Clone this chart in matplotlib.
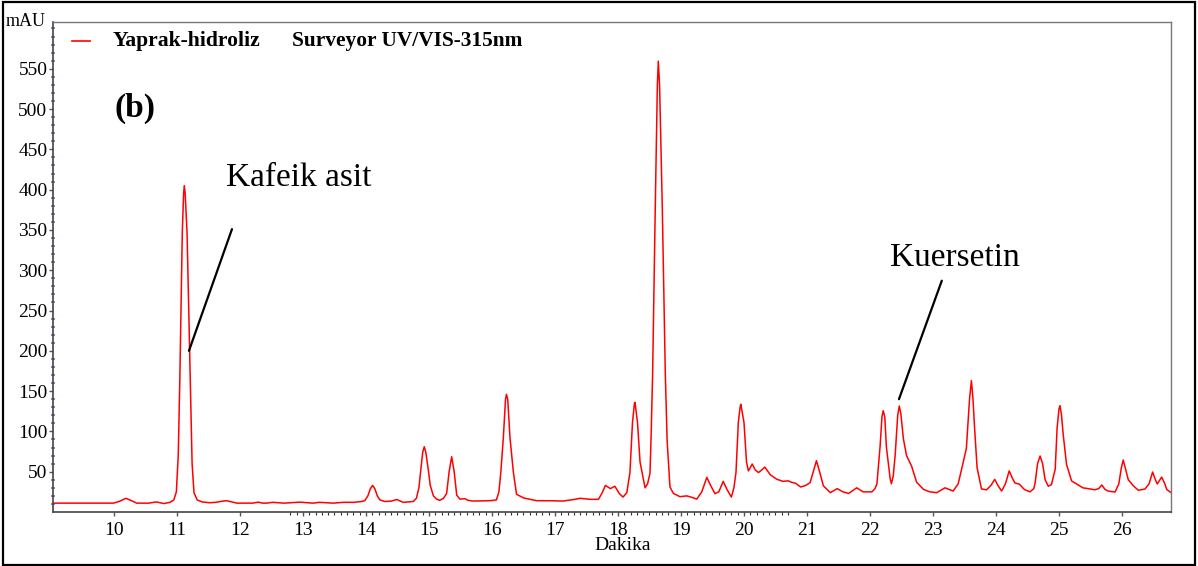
import matplotlib
matplotlib.use("Agg")
import matplotlib.pyplot as plt
from matplotlib.patches import Rectangle

plt.rcParams['font.family'] = ['Liberation Serif', 'DejaVu Serif']

# chromatogram trace (minutes, mAU)
time_min = [9.03, 9.99, 10.08, 10.19, 10.28, 10.36, 10.55, 10.67, 10.79, 10.89,
            10.95, 10.99, 11.02, 11.046, 11.084, 11.105, 11.116, 11.13, 11.16, 11.21,
            11.24, 11.27, 11.32, 11.40, 11.52, 11.62, 11.72, 11.79, 11.87, 11.95,
            12.20, 12.29, 12.36, 12.42, 12.52, 12.70, 12.95, 13.06, 13.16, 13.26,
            13.36, 13.48, 13.64, 13.80, 13.93, 13.98, 14.03, 14.07, 14.106, 14.14,
            14.18, 14.22, 14.30, 14.40, 14.49, 14.59, 14.75, 14.80, 14.84, 14.87,
            14.90, 14.925, 14.95, 14.99, 15.02, 15.07, 15.12, 15.17, 15.23, 15.28,
            15.32, 15.36, 15.40, 15.44, 15.49, 15.57, 15.62, 15.70, 15.97, 16.07,
            16.11, 16.14, 16.18, 16.215, 16.23, 16.25, 16.286, 16.34, 16.39, 16.50,
            16.71, 16.92, 17.13, 17.30, 17.40, 17.56, 17.69, 17.75, 17.80, 17.88,
            17.95, 18.02, 18.08, 18.14, 18.19, 18.23, 18.26, 18.27, 18.31, 18.35,
            18.40, 18.43, 18.47, 18.508, 18.524, 18.55, 18.592, 18.625, 18.64, 18.66,
            18.703, 18.751, 18.78, 18.825, 18.88, 18.984, 19.09, 19.16, 19.25, 19.33,
            19.41, 19.47, 19.54, 19.60, 19.67, 19.73, 19.80, 19.84, 19.873, 19.91,
            19.94, 19.95, 20.0, 20.04, 20.07, 20.10, 20.13, 20.18, 20.23, 20.28,
            20.33, 20.42, 20.52, 20.62, 20.70, 20.75, 20.82, 20.90, 20.98, 21.05,
            21.10, 21.15, 21.20, 21.26, 21.37, 21.48, 21.57, 21.66, 21.79, 21.89,
            22.03, 22.08, 22.11, 22.16, 22.19, 22.21, 22.235, 22.26, 22.32, 22.34,
            22.37, 22.40, 22.44, 22.465, 22.49, 22.53, 22.58, 22.66, 22.74, 22.85,
            22.95, 23.06, 23.19, 23.32, 23.40, 23.46, 23.53, 23.58, 23.61, 23.635,
            23.66, 23.70, 23.77, 23.85, 23.92, 23.98, 24.03, 24.09, 24.15, 24.21,
            24.26, 24.30, 24.37, 24.45, 24.54, 24.60, 24.62, 24.66, 24.70, 24.74,
            24.78, 24.83, 24.88, 24.94, 24.97, 25.0, 25.016, 25.04, 25.067, 25.12,
            25.20, 25.38, 25.57, 25.63, 25.68, 25.73, 25.78, 25.89, 25.95, 25.99,
            26.02, 26.06, 26.10, 26.18, 26.26, 26.365, 26.43, 26.486, 26.53, 26.56,
            26.63, 26.68, 26.71, 26.78]
absorb_mau = [11, 11, 13, 17, 14, 11, 11, 12.5, 10.5, 12,
              15, 25, 70, 168, 346, 395, 405, 395, 346, 168,
              60, 24, 15, 12.5, 11.5, 12, 13.5, 14, 12.5, 11,
              11, 12.2, 11, 11, 12, 11, 12.2, 11.5, 11, 12,
              11.5, 11, 12, 12, 13, 14, 20, 29, 33, 29,
              20, 15, 13, 13.5, 15.5, 12, 13, 17, 30, 52,
              74, 81, 74, 52, 33, 20, 16, 14.5, 17, 23,
              50, 68.6, 50, 21, 16, 16.5, 14.5, 13.6, 14, 15,
              25, 49, 92, 140, 146, 140, 92, 49, 22, 17.5,
              14, 14, 13.6, 15.5, 17, 15.7, 15.7, 24, 33, 29,
              32, 23, 18.5, 24, 49, 111, 134, 136, 111, 62,
              42, 30, 35, 48, 89, 172, 379, 530, 559.5, 530,
              379, 172, 89, 31, 23, 19, 20, 18.5, 16, 25,
              43, 33, 22.7, 25, 38, 28, 18.5, 30, 49, 111,
              131, 133.6, 111, 62, 51, 55, 59.5, 52, 49, 52,
              55.7, 46, 40.7, 38, 38.7, 37, 35.6, 31, 33, 36.4,
              50, 63.7, 50, 32.5, 24, 29, 25, 23, 30, 25,
              25, 29, 35, 81, 118, 125.7, 118, 81, 41.5, 35,
              45, 70.8, 120, 131.5, 122, 91, 70, 57, 37, 28,
              25, 24, 30, 26, 35, 55, 79, 140, 163, 140,
              104.6, 55, 28.6, 27.5, 33, 40.5, 33, 26, 35, 51,
              42, 36, 34.6, 28, 25, 29, 35.6, 60, 69.5, 60,
              40, 32, 34, 53, 104, 128, 132, 120, 96, 59,
              38.5, 30, 27.6, 29, 33.5, 28, 26, 24.8, 35, 55,
              64.5, 52, 40, 32.5, 27, 28.5, 35, 49.6, 40, 34.8,
              43.3, 35, 28, 24]

x_ticks = list(range(10, 27))
y_ticks = list(range(50, 551, 50))

# peak labels: text, text pos, line top, line tip
peak_names = ['Kafeik asit', 'Kuersetin']
name_pos = [(11.78, 405), (22.32, 305)]
line_top = [(11.873, 351), (23.14, 287)]
line_tip = [(11.19, 200), (22.46, 140)]

fig = plt.figure(figsize=(11.98, 5.66), dpi=100)
ax = fig.add_axes([53/1198, 1 - 512/566, (1171-53)/1198, (512-22)/566])

ax.plot(time_min, absorb_mau, color='#ff0000', lw=1.1)

ax.set_xlim(9.032, 26.778)
ax.set_ylim(0, 608)

ax.set_xticks(x_ticks)
ax.set_yticks(y_ticks)
ax.set_xticks([round(12.8 + 0.1*i, 1) for i in range(80)], minor=True)
ax.set_yticks(list(range(10, 601, 10)), minor=True)

ax.tick_params(axis='both', which='major', labelsize=14, direction='out',
               length=3, width=1, color='#555555')
ax.tick_params(axis='x', which='major', pad=4)
ax.tick_params(axis='y', which='major', pad=1)
ax.tick_params(axis='x', which='minor', length=2.5, width=0.8, color='#333333')
ax.tick_params(axis='y', which='minor', direction='inout', length=3,
               width=1.2, color='#7070b0')

for side in ['left', 'bottom']:
    ax.spines[side].set_color('#444444')
    ax.spines[side].set_linewidth(1.2)
for side in ['top', 'right']:
    ax.spines[side].set_color('#777777')
    ax.spines[side].set_linewidth(1.0)

# legend line and header
fig.add_artist(plt.Line2D([72/1198, 90/1198], [1 - 41/566, 1 - 41/566],
                          color='#ff0000', lw=1.2))
fig.text(113/1198, 1 - 41/566, 'Yaprak-hidroliz', fontsize=15.6, fontweight='bold',
         va='center', ha='left')
fig.text(292/1198, 1 - 41/566, 'Surveyor UV/VIS-315nm', fontsize=15.4,
         fontweight='bold', va='center', ha='left')
fig.text(115/1198, 1 - 108/566, '(b)', fontsize=24, fontweight='bold',
         va='center', ha='left')
fig.text(6/1198, 1 - 21/566, 'mAU', fontsize=13, va='center', ha='left')
fig.text(623/1198, 1 - 546/566, 'Dakika', fontsize=14, va='center', ha='center')

for name, pos, top, tip in zip(peak_names, name_pos, line_top, line_tip):
    ax.text(pos[0], pos[1], name, fontsize=24, ha='left', va='baseline')
    ax.annotate('', xy=tip, xytext=top,
                arrowprops=dict(arrowstyle='-', lw=1.6, color='black',
                                shrinkA=0, shrinkB=0))

# outer frame
fig.add_artist(Rectangle((3/1198, 1/566), 1192/1198, 563/566, fill=False,
                         edgecolor='black', lw=1.6, transform=fig.transFigure))

fig.savefig('out.png', dpi=100)
